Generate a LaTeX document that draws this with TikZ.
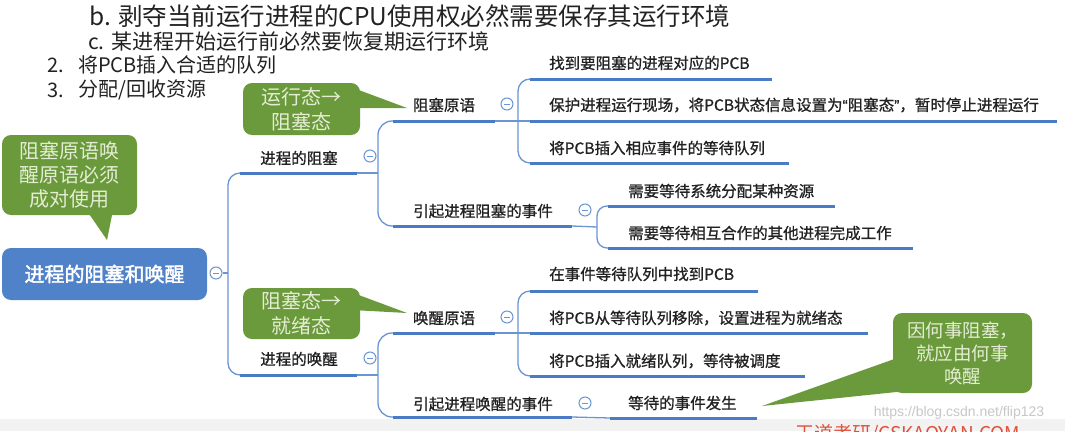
\documentclass[tikz,border=0pt]{standalone}
\usepackage{fontspec}
\setmainfont{Noto Sans CJK SC}
\newfontfamily\cjkb[FakeBold=2.2]{Noto Sans CJK SC}
\newfontfamily\cjkm[FakeBold=0.9]{Noto Sans CJK SC}
\newfontfamily\latn{Liberation Sans}
\newfontfamily\latnb[FakeBold=0.9]{Liberation Sans}
\definecolor{ulblue}{HTML}{4A7CC5}
\definecolor{lnblue}{HTML}{6A95D2}
\definecolor{rootblue}{HTML}{4F82C8}
\definecolor{cgreen}{HTML}{6B9A3C}
\definecolor{cpale}{HTML}{E4EDD3}
\definecolor{txt}{HTML}{222222}
\definecolor{redmark}{HTML}{E0503A}
\tikzset{
  conn/.style={draw=lnblue, line width=1.3pt},
  uline/.style={draw=ulblue, line width=3pt},
  itemtext/.style={anchor=west, inner sep=0pt, text=txt, font=\cjkm\fontsize{15.5}{18}\selectfont},
  midtext/.style={anchor=center, inner sep=0pt, text=txt, font=\cjkm\fontsize{15.5}{18}\selectfont},
  toptext/.style={anchor=west, inner sep=0pt, text=txt},
  cbox/.style={fill=cgreen, rounded corners=9pt, text=cpale, align=center, inner sep=0pt},
  fold/.style={circle, draw=lnblue, fill=white, line width=1pt, minimum size=12pt, inner sep=0pt,
    path picture={\draw[lnblue, line width=0.9pt] ([xshift=-3pt]path picture bounding box.center) -- ([xshift=3pt]path picture bounding box.center);}},
  rootbox/.style={fill=rootblue, rounded corners=9pt, text=white, minimum width=205pt, minimum height=52pt, inner sep=0pt, font=\cjkb\fontsize{20}{24}\selectfont}
}
\begin{document}
\begin{tikzpicture}[x=1pt,y=-1pt]
\useasboundingbox (0,0) rectangle (1065,431);
\fill[white] (0,0) rectangle (1065,431);
\fill[black!5] (0,419) rectangle (1065,431);

% top text
\node[toptext] (tb) at (89,16) {\fontsize{24.5}{28}\selectfont b. 剥夺当前运行进程的CPU使用权必然需要保存其运行环境};
\node[toptext] (tc) at (88,41) {\fontsize{21}{25}\selectfont c. 某进程开始运行前必然要恢复期运行环境};
\node[toptext] (n2) at (47,65) {\fontsize{20}{24}\selectfont 2.};
\node[toptext] (t2) at (78,65) {\fontsize{20}{24}\selectfont 将PCB插入合适的队列};
\node[toptext] (n3) at (47,90) {\fontsize{20}{24}\selectfont 3.};
\node[toptext] (t3) at (78,90) {\fontsize{20}{24}\selectfont 分配/回收资源};

% root
\node[rootbox] (root) at (104.5,274) {进程的阻塞和唤醒};
\node[fold] (f0) at (216,273) {};
\coordinate (tr) at (228,273);
\coordinate (blkL) at (240,173); \coordinate (blkR) at (357,173);
\coordinate (wakL) at (240,375); \coordinate (wakR) at (357,375);
\draw[conn] (f0.east) -- (tr);
\draw[conn, rounded corners=12pt] (blkL) -| (tr) |- (wakL);

% blocking branch
\draw[uline] (blkL) -- (blkR);
\node[midtext] (blk) at (299,158) {进程的阻塞};
\node[fold] (f1) at (370,156) {};
\coordinate (b1) at (378,173);
\coordinate (pbL) at (393,121); \coordinate (pbR) at (495,121);
\coordinate (evL) at (393,226); \coordinate (evR) at (572,226);
\draw[conn] (blkR) -- (b1);
\draw[conn, rounded corners=14pt] (pbL) -| (b1) |- (evL);

% block primitive
\draw[uline] (pbL) -- (pbR);
\node[midtext] (pb) at (444,105) {阻塞原语};
\node[fold] (f2) at (507,104) {};
\coordinate (b2) at (518,121);
\coordinate (p1L) at (530,79);  \coordinate (p1R) at (772,79);
\coordinate (p2L) at (530,121); \coordinate (p2R) at (1057,121);
\coordinate (p3L) at (530,163); \coordinate (p3R) at (789,163);
\draw[conn] (pbR) -- (p2L);
\draw[conn, rounded corners=12pt] (p1L) -| (b2) |- (p3L);
\draw[uline] (p1L) -- (p1R);
\draw[uline] (p2L) -- (p2R);
\draw[uline] (p3L) -- (p3R);
\node[itemtext] (p1) at (549,63) {找到要阻塞的进程对应的PCB};
\node[itemtext] (p2) at (549,105) {保护进程运行现场，将PCB状态信息设置为{\latnb “}阻塞态{\latnb ”}，暂时停止进程运行};
\node[itemtext] (p3) at (549,148) {将PCB插入相应事件的等待队列};

% block events
\draw[uline] (evL) -- (evR);
\node[midtext] (ev) at (483,211) {引起进程阻塞的事件};
\node[fold] (f3) at (585,210) {};
\coordinate (b3) at (597,227);
\coordinate (e1L) at (608,206); \coordinate (e1R) at (835,206);
\coordinate (e2L) at (608,248); \coordinate (e2R) at (913,248);
\draw[conn] (evR) -- (b3);
\draw[conn, rounded corners=10pt] (e1L) -| (b3) |- (e2L);
\draw[uline] (e1L) -- (e1R);
\draw[uline] (e2L) -- (e2R);
\node[itemtext] (e1) at (628,191) {需要等待系统分配某种资源};
\node[itemtext] (e2) at (628,233) {需要等待相互合作的其他进程完成工作};

% wake branch
\draw[uline] (wakL) -- (wakR);
\node[midtext] (wak) at (299,359) {进程的唤醒};
\node[fold] (f4) at (370,358) {};
\coordinate (b4) at (378,375);
\coordinate (wpL) at (393,333); \coordinate (wpR) at (495,333);
\coordinate (weL) at (393,417); \coordinate (weR) at (572,417);
\draw[conn] (wakR) -- (b4);
\draw[conn, rounded corners=14pt] (wpL) -| (b4) |- (weL);

% wake primitive
\draw[uline] (wpL) -- (wpR);
\node[midtext] (wp) at (444,318) {唤醒原语};
\node[fold] (f5) at (507,317) {};
\coordinate (b5) at (518,333);
\coordinate (w1L) at (530,291); \coordinate (w1R) at (758,291);
\coordinate (w2L) at (530,333); \coordinate (w2R) at (868,333);
\coordinate (w3L) at (530,376); \coordinate (w3R) at (805,376);
\draw[conn] (wpR) -- (w2L);
\draw[conn, rounded corners=12pt] (w1L) -| (b5) |- (w3L);
\draw[uline] (w1L) -- (w1R);
\draw[uline] (w2L) -- (w2R);
\draw[uline] (w3L) -- (w3R);
\node[itemtext] (w1) at (549,274) {在事件等待队列中找到PCB};
\node[itemtext] (w2) at (549,318) {将PCB从等待队列移除，设置进程为就绪态};
\node[itemtext] (w3) at (549,361) {将PCB插入就绪队列，等待被调度};

% wake events
\draw[uline] (weL) -- (weR);
\node[midtext] (we) at (483,404) {引起进程唤醒的事件};
\node[fold] (f6) at (585,403) {};
\coordinate (x1L) at (610,418); \coordinate (x1R) at (757,418);
\draw[conn] (weR) -- (x1L);
\draw[uline] (x1L) -- (x1R);
\node[itemtext] (x1) at (628,403) {等待的事件发生};

% callouts
\coordinate (t0) at (107,240);
\fill[cgreen] (83,205) -- (t0) -- (114,205) -- cycle;
\node[cbox, minimum width=135pt, minimum height=80pt, font=\fontsize{20}{24}\selectfont] (c0) at (69.5,175) {阻塞原语唤\\醒原语必须\\成对使用};

\coordinate (t1) at (407,108);
\fill[cgreen] (348,86) -- (t1) -- (352,108) -- cycle;
\node[cbox, minimum width=117pt, minimum height=52pt, font=\fontsize{20}{25}\selectfont] (c1) at (301.5,109) {运行态→\\阻塞态};

\coordinate (t2p) at (407,313);
\fill[cgreen] (348,291) -- (t2p) -- (352,310) -- cycle;
\node[cbox, minimum width=117pt, minimum height=51pt, font=\fontsize{20}{25}\selectfont] (c2) at (301.5,313.5) {阻塞态→\\就绪态};

\coordinate (t3p) at (762,406);
\fill[cgreen] (900,357) -- (t3p) -- (935,388) -- cycle;
\node[cbox, minimum width=139pt, minimum height=80pt, font=\fontsize{18.5}{23}\selectfont] (c3) at (962.5,353) {因何事阻塞，\\就应由何事\\唤醒};

% watermarks
\node[anchor=center, inner sep=0pt, text=black!22, font=\latn\fontsize{14}{16}\selectfont] (wm) at (959,413) {https://blog.csdn.net/flip123};
\node[anchor=center, inner sep=0pt, text=redmark, font=\fontsize{19}{22}\selectfont] (rm) at (908,434) {王道考研/CSKAOYAN.COM};
\end{tikzpicture}
\end{document}
